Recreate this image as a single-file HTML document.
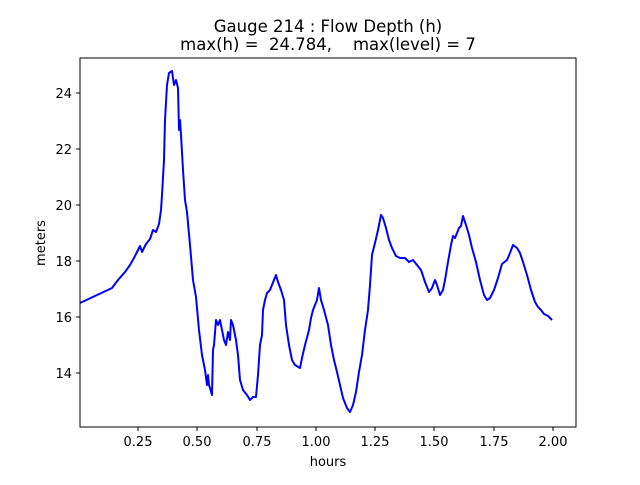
<!DOCTYPE html>
<html><head><meta charset="utf-8"><style>body{margin:0;background:#fff}</style></head><body>
<svg width="640" height="480" xmlns="http://www.w3.org/2000/svg" font-family="DejaVu Sans, sans-serif">
<rect width="640" height="480" fill="#fff"/>
<text x="328" y="32" font-size="16.5" text-anchor="middle">Gauge 214 : Flow Depth (h)</text>
<text x="328" y="50" font-size="16.5" text-anchor="middle" xml:space="preserve">max(h) =  24.784,    max(level) = 7</text>
<polyline fill="none" stroke="#0000ff" stroke-width="2" stroke-linejoin="round" points="80,303 112,288 118,280 125,272 130,265 134,258 137,252 140,246 142,252 146,244 150,239 153,230 156,232 159,224 161,210 162,195 164,160 165,120 167,85 169,73 172,71 174,85 176,80 178,88 179,130 180,120 181,135 183,170 185,200 187,212 190,245 193,280 196,297 199,330 202,355 205,370 207,385 208,375 209,385 210,388 212,395 213,350 214,345 216,320 218,325 220,320 222,330 224,340 226,345 228,332 230,340 231,320 233,325 236,340 238,355 240,380 243,390 247,395 250,400 253,397 256,397 258,375 260,345 262,335 263,310 265,300 267,293 270,290 272,285 274,280 276,275 278,282 281,290 284,300 286,325 289,345 292,360 295,365 300,368 302,358 305,345 309,330 311,318 313,310 317,300 319,288 321,300 324,310 328,325 331,345 334,360 337,372 340,385 343,398 347,408 350,412 353,405 356,392 359,372 362,355 365,330 368,310 370,285 372,255 375,243 378,230 381,215 383,218 386,228 389,240 392,248 396,256 400,258 405,258 409,262 413,260 417,265 421,270 425,282 429,292 432,288 435,280 437,285 440,295 443,290 445,280 448,262 451,245 453,236 455,238 457,233 459,228 461,226 463,216 466,225 469,235 472,248 476,262 480,280 484,295 487,300 490,298 494,290 498,278 502,264 507,260 510,253 513,245 517,248 520,253 523,262 527,275 531,290 535,302 538,307 541,310 544,314 548,316 552,320"/>
<rect x="80" y="58" width="496" height="369" fill="none" stroke="#000" stroke-width="1"/>
<g stroke="#000" stroke-width="1">
<line x1="138" y1="427" x2="138" y2="431"/><line x1="197" y1="427" x2="197" y2="431"/><line x1="257" y1="427" x2="257" y2="431"/><line x1="316" y1="427" x2="316" y2="431"/><line x1="375" y1="427" x2="375" y2="431"/><line x1="434" y1="427" x2="434" y2="431"/><line x1="494" y1="427" x2="494" y2="431"/><line x1="553" y1="427" x2="553" y2="431"/>
<line x1="76" y1="373" x2="80" y2="373"/><line x1="76" y1="317" x2="80" y2="317"/><line x1="76" y1="261" x2="80" y2="261"/><line x1="76" y1="205" x2="80" y2="205"/><line x1="76" y1="149" x2="80" y2="149"/><line x1="76" y1="93" x2="80" y2="93"/>
</g>
<g font-size="13" text-anchor="middle">
<text x="138" y="446">0.25</text><text x="197" y="446">0.50</text><text x="257" y="446">0.75</text><text x="316" y="446">1.00</text><text x="375" y="446">1.25</text><text x="434" y="446">1.50</text><text x="494" y="446">1.75</text><text x="553" y="446">2.00</text>
<text x="328" y="466">hours</text>
</g>
<g font-size="13" text-anchor="end">
<text x="72" y="378">14</text><text x="72" y="322">16</text><text x="72" y="266">18</text><text x="72" y="210">20</text><text x="72" y="154">22</text><text x="72" y="98">24</text>
</g>
<text x="45" y="243" font-size="13" text-anchor="middle" transform="rotate(-90 45 243)">meters</text>
</svg>
</body></html>
